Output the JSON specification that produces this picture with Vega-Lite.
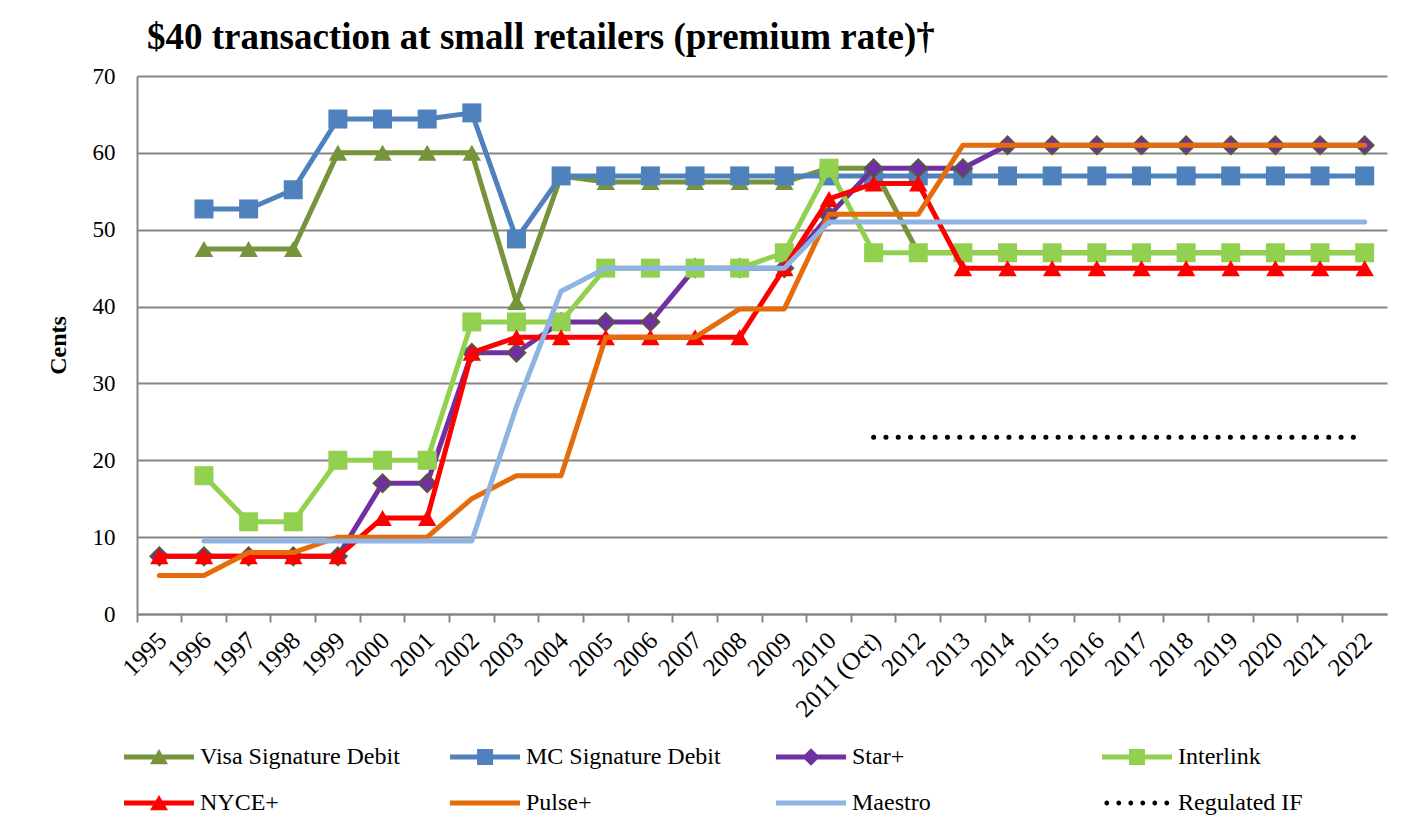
{
  "$schema": "https://vega.github.io/schema/vega-lite/v6.json",
  "width": 1250,
  "height": 538,
  "autosize": "none",
  "padding": {"left": 137, "top": 76, "right": 17, "bottom": 213},
  "background": "white",
  "title": {
    "text": "$40 transaction at small retailers (premium rate)†",
    "anchor": "start",
    "frame": "group",
    "dx": 10,
    "offset": -21,
    "baseline": "alphabetic",
    "font": "Liberation Serif",
    "fontSize": 37,
    "fontWeight": "bold",
    "color": "black"
  },
  "data": {
    "values": [
      {"year": "1995", "Star+": 7.5, "NYCE+": 7.5, "Pulse+": 5},
      {"year": "1996", "Visa Signature Debit": 47.5, "MC Signature Debit": 52.7, "Star+": 7.5, "Interlink": 18, "NYCE+": 7.5, "Pulse+": 5, "Maestro": 9.5},
      {"year": "1997", "Visa Signature Debit": 47.5, "MC Signature Debit": 52.7, "Star+": 7.5, "Interlink": 12, "NYCE+": 7.5, "Pulse+": 8, "Maestro": 9.5},
      {"year": "1998", "Visa Signature Debit": 47.5, "MC Signature Debit": 55.2, "Star+": 7.5, "Interlink": 12, "NYCE+": 7.5, "Pulse+": 8, "Maestro": 9.5},
      {"year": "1999", "Visa Signature Debit": 60, "MC Signature Debit": 64.4, "Star+": 7.5, "Interlink": 20, "NYCE+": 7.5, "Pulse+": 10, "Maestro": 9.5},
      {"year": "2000", "Visa Signature Debit": 60, "MC Signature Debit": 64.4, "Star+": 17, "Interlink": 20, "NYCE+": 12.5, "Pulse+": 10, "Maestro": 9.5},
      {"year": "2001", "Visa Signature Debit": 60, "MC Signature Debit": 64.4, "Star+": 17, "Interlink": 20, "NYCE+": 12.5, "Pulse+": 10, "Maestro": 9.5},
      {"year": "2002", "Visa Signature Debit": 60, "MC Signature Debit": 65.2, "Star+": 34, "Interlink": 38, "NYCE+": 34, "Pulse+": 15, "Maestro": 9.5},
      {"year": "2003", "Visa Signature Debit": 40.6, "MC Signature Debit": 48.8, "Star+": 34, "Interlink": 38, "NYCE+": 36, "Pulse+": 18, "Maestro": 27},
      {"year": "2004", "Visa Signature Debit": 57, "MC Signature Debit": 57, "Star+": 38, "Interlink": 38, "NYCE+": 36, "Pulse+": 18, "Maestro": 42},
      {"year": "2005", "Visa Signature Debit": 56.2, "MC Signature Debit": 57, "Star+": 38, "Interlink": 45, "NYCE+": 36, "Pulse+": 36, "Maestro": 45},
      {"year": "2006", "Visa Signature Debit": 56.2, "MC Signature Debit": 57, "Star+": 38, "Interlink": 45, "NYCE+": 36, "Pulse+": 36, "Maestro": 45},
      {"year": "2007", "Visa Signature Debit": 56.2, "MC Signature Debit": 57, "Star+": 45, "Interlink": 45, "NYCE+": 36, "Pulse+": 36, "Maestro": 45},
      {"year": "2008", "Visa Signature Debit": 56.2, "MC Signature Debit": 57, "Star+": 45, "Interlink": 45, "NYCE+": 36, "Pulse+": 39.7, "Maestro": 45},
      {"year": "2009", "Visa Signature Debit": 56.2, "MC Signature Debit": 57, "Star+": 45, "Interlink": 47, "NYCE+": 45, "Pulse+": 39.7, "Maestro": 45},
      {"year": "2010", "Visa Signature Debit": 58, "MC Signature Debit": 57, "Star+": 51.8, "Interlink": 58, "NYCE+": 54, "Pulse+": 52, "Maestro": 51},
      {"year": "2011 (Oct)", "Visa Signature Debit": 58, "MC Signature Debit": 57, "Star+": 58, "Interlink": 47, "NYCE+": 56, "Pulse+": 52, "Maestro": 51, "Regulated IF": 23},
      {"year": "2012", "Visa Signature Debit": 47, "MC Signature Debit": 57, "Star+": 58, "Interlink": 47, "NYCE+": 56, "Pulse+": 52, "Maestro": 51, "Regulated IF": 23},
      {"year": "2013", "Visa Signature Debit": 47, "MC Signature Debit": 57, "Star+": 58, "Interlink": 47, "NYCE+": 45, "Pulse+": 61, "Maestro": 51, "Regulated IF": 23},
      {"year": "2014", "Visa Signature Debit": 47, "MC Signature Debit": 57, "Star+": 61, "Interlink": 47, "NYCE+": 45, "Pulse+": 61, "Maestro": 51, "Regulated IF": 23},
      {"year": "2015", "Visa Signature Debit": 47, "MC Signature Debit": 57, "Star+": 61, "Interlink": 47, "NYCE+": 45, "Pulse+": 61, "Maestro": 51, "Regulated IF": 23},
      {"year": "2016", "Visa Signature Debit": 47, "MC Signature Debit": 57, "Star+": 61, "Interlink": 47, "NYCE+": 45, "Pulse+": 61, "Maestro": 51, "Regulated IF": 23},
      {"year": "2017", "Visa Signature Debit": 47, "MC Signature Debit": 57, "Star+": 61, "Interlink": 47, "NYCE+": 45, "Pulse+": 61, "Maestro": 51, "Regulated IF": 23},
      {"year": "2018", "Visa Signature Debit": 47, "MC Signature Debit": 57, "Star+": 61, "Interlink": 47, "NYCE+": 45, "Pulse+": 61, "Maestro": 51, "Regulated IF": 23},
      {"year": "2019", "Visa Signature Debit": 47, "MC Signature Debit": 57, "Star+": 61, "Interlink": 47, "NYCE+": 45, "Pulse+": 61, "Maestro": 51, "Regulated IF": 23},
      {"year": "2020", "Visa Signature Debit": 47, "MC Signature Debit": 57, "Star+": 61, "Interlink": 47, "NYCE+": 45, "Pulse+": 61, "Maestro": 51, "Regulated IF": 23},
      {"year": "2021", "Visa Signature Debit": 47, "MC Signature Debit": 57, "Star+": 61, "Interlink": 47, "NYCE+": 45, "Pulse+": 61, "Maestro": 51, "Regulated IF": 23},
      {"year": "2022", "Visa Signature Debit": 47, "MC Signature Debit": 57, "Star+": 61, "Interlink": 47, "NYCE+": 45, "Pulse+": 61, "Maestro": 51, "Regulated IF": 23}
    ]
  },
  "encoding": {
    "x": {
      "field": "year",
      "type": "nominal",
      "bandPosition": 0.5,
      "scale": {
        "type": "band",
        "paddingInner": 0,
        "paddingOuter": 0,
        "domain": ["1995","1996","1997","1998","1999","2000","2001","2002","2003","2004","2005","2006","2007","2008","2009","2010","2011 (Oct)","2012","2013","2014","2015","2016","2017","2018","2019","2020","2021","2022"]
      },
      "axis": {
        "title": null,
        "bandPosition": 0,
        "labelOffset": 3,
        "labelAngle": -45,
        "labelAlign": "right",
        "labelBaseline": "middle",
        "labelPadding": 14,
        "labelFont": "Liberation Serif",
        "labelFontSize": 25,
        "labelColor": "black",
        "domainColor": "#868686",
        "domainWidth": 2,
        "tickColor": "#868686",
        "tickWidth": 2,
        "tickSize": 8,
        "grid": false
      }
    }
  },
  "layer": [
    {
      "mark": {"type": "line", "color": "#77933C", "strokeWidth": 5, "strokeJoin": "round", "strokeCap": "round",
        "point": {"shape": "triangle-up", "size": 340, "filled": true, "color": "#77933C", "opacity": 1}},
      "encoding": {
        "y": {
          "field": "Visa Signature Debit",
          "type": "quantitative",
          "scale": {"domain": [0, 70], "nice": false},
          "axis": {
            "title": "Cents",
            "titleFont": "Liberation Serif",
            "titleFontSize": 24,
            "titleFontWeight": "bold",
            "titleColor": "black",
            "titlePadding": 22,
            "values": [0, 10, 20, 30, 40, 50, 60, 70],
            "labelFont": "Liberation Serif",
            "labelFontSize": 23,
            "labelColor": "black",
            "labelPadding": 22,
            "ticks": false,
            "domainColor": "#868686",
            "domainWidth": 2,
            "gridColor": "#868686",
            "gridWidth": 2
          }
        }
      }
    },
    {
      "mark": {"type": "line", "color": "#4F81BD", "strokeWidth": 5, "strokeJoin": "round", "strokeCap": "round",
        "point": {"shape": "square", "size": 361, "filled": true, "color": "#4F81BD", "opacity": 1}},
      "encoding": {"y": {"field": "MC Signature Debit", "type": "quantitative"}}
    },
    {
      "mark": {"type": "line", "color": "#7030A0", "strokeWidth": 5, "strokeJoin": "round", "strokeCap": "round",
        "point": {"shape": "diamond", "size": 340, "filled": true, "fill": "#7030A0", "stroke": "#4F6228", "strokeWidth": 1.5, "opacity": 1}},
      "encoding": {"y": {"field": "Star+", "type": "quantitative"}}
    },
    {
      "mark": {"type": "line", "color": "#92D050", "strokeWidth": 5, "strokeJoin": "round", "strokeCap": "round",
        "point": {"shape": "square", "size": 361, "filled": true, "color": "#92D050", "opacity": 1}},
      "encoding": {"y": {"field": "Interlink", "type": "quantitative"}}
    },
    {
      "mark": {"type": "line", "color": "#FF0000", "strokeWidth": 5, "strokeJoin": "round", "strokeCap": "round",
        "point": {"shape": "triangle-up", "size": 340, "filled": true, "color": "#FF0000", "opacity": 1}},
      "encoding": {"y": {"field": "NYCE+", "type": "quantitative"}}
    },
    {
      "mark": {"type": "line", "color": "#E46C0A", "strokeWidth": 5, "strokeJoin": "round", "strokeCap": "round"},
      "encoding": {"y": {"field": "Pulse+", "type": "quantitative"}}
    },
    {
      "mark": {"type": "line", "color": "#8EB4E3", "strokeWidth": 5, "strokeJoin": "round", "strokeCap": "round"},
      "encoding": {"y": {"field": "Maestro", "type": "quantitative"}}
    },
    {
      "mark": {"type": "line", "color": "black", "strokeWidth": 5, "strokeCap": "round", "strokeDash": [0.1, 12.2]},
      "encoding": {"y": {"field": "Regulated IF", "type": "quantitative"}}
    },
    {
      "transform": [
        {"fold": ["Visa Signature Debit", "MC Signature Debit", "Star+", "Interlink", "NYCE+", "Pulse+", "Maestro", "Regulated IF"], "as": ["series", "cents"]}
      ],
      "mark": {"type": "point", "filled": true, "opacity": 0},
      "encoding": {
        "y": {"field": "cents", "type": "quantitative"},
        "color": {
          "field": "series",
          "type": "nominal",
          "scale": {
            "domain": ["Visa Signature Debit", "MC Signature Debit", "Star+", "Interlink", "NYCE+", "Pulse+", "Maestro", "Regulated IF"],
            "range": ["#77933C", "#4F81BD", "#7030A0", "#92D050", "#FF0000", "#E46C0A", "#8EB4E3", "black"]
          },
          "legend": {
            "title": null,
            "orient": "none",
            "legendX": -17,
            "legendY": 669,
            "direction": "horizontal",
            "columns": 4,
            "gridAlign": "all",
            "columnPadding": 46,
            "rowPadding": 22,
            "symbolSize": 256,
            "symbolOpacity": 1,
            "symbolStrokeWidth": 0,
            "labelOffset": 56,
            "labelFont": "Liberation Serif",
            "labelFontSize": 24,
            "labelColor": "black",
            "labelLimit": 400
          }
        },
        "shape": {
          "field": "series",
          "type": "nominal",
          "scale": {
            "domain": ["Visa Signature Debit", "MC Signature Debit", "Star+", "Interlink", "NYCE+", "Pulse+", "Maestro", "Regulated IF"],
            "range": [
              "M-1,-0.3125H7.75V0.3125H-1Z M3.375,-1L4.5,0.9L2.25,0.9Z",
              "M-1,-0.3125H7.75V0.3125H-1Z M2.375,-1H4.375V1H2.375Z",
              "M-1,-0.3125H7.75V0.3125H-1Z M3.375,-1.1L4.475,0L3.375,1.1L2.275,0Z",
              "M-1,-0.3125H7.75V0.3125H-1Z M2.375,-1H4.375V1H2.375Z",
              "M-1,-0.3125H7.75V0.3125H-1Z M3.375,-1L4.5,0.9L2.25,0.9Z",
              "M-1,-0.3125H7.75V0.3125H-1Z",
              "M-1,-0.3125H7.75V0.3125H-1Z",
              "M-0.7,0a0.3,0.3 0 1,0 0.6,0a0.3,0.3 0 1,0 -0.6,0Z M0.8,0a0.3,0.3 0 1,0 0.6,0a0.3,0.3 0 1,0 -0.6,0Z M2.3,0a0.3,0.3 0 1,0 0.6,0a0.3,0.3 0 1,0 -0.6,0Z M3.8,0a0.3,0.3 0 1,0 0.6,0a0.3,0.3 0 1,0 -0.6,0Z M5.3,0a0.3,0.3 0 1,0 0.6,0a0.3,0.3 0 1,0 -0.6,0Z M6.8,0a0.3,0.3 0 1,0 0.6,0a0.3,0.3 0 1,0 -0.6,0Z"
            ]
          },
          "legend": {
            "title": null,
            "orient": "none",
            "legendX": -17,
            "legendY": 669,
            "direction": "horizontal",
            "columns": 4,
            "gridAlign": "all",
            "columnPadding": 46,
            "rowPadding": 22,
            "symbolSize": 256,
            "symbolOpacity": 1,
            "symbolStrokeWidth": 0,
            "labelOffset": 56,
            "labelFont": "Liberation Serif",
            "labelFontSize": 24,
            "labelColor": "black",
            "labelLimit": 400
          }
        }
      }
    }
  ],
  "config": {
    "view": {"stroke": null}
  }
}
